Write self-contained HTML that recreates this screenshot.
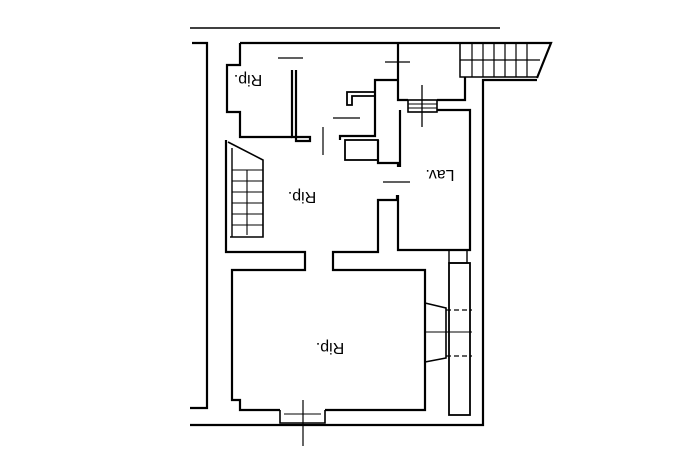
<!DOCTYPE html>
<html><head><style>
html,body{margin:0;padding:0;background:#fff;width:693px;height:462px;overflow:hidden}
svg{display:block}
text{font-family:"Liberation Sans",sans-serif;font-size:16px;fill:#000}
</style></head><body>
<svg width="693" height="462" viewBox="0 0 693 462" xmlns="http://www.w3.org/2000/svg">
<g fill="none" stroke="#000" stroke-width="2.2" stroke-linejoin="miter">
<line x1="190" y1="28" x2="500" y2="28" stroke-width="1.5"/>
<polyline points="192,43 207,43 207,408 190,408"/>
<polyline points="190,425 483,425 483,80 537,80"/>
<polyline points="240,43 551,43 537,78"/>
<polyline points="460,43 460,77 537,77" stroke-width="1.5"/>
<line x1="460" y1="60" x2="540" y2="60" stroke-width="1.2"/>
<g stroke-width="1.2">
<line x1="472" y1="43" x2="472" y2="77"/><line x1="483" y1="43" x2="483" y2="77"/>
<line x1="494" y1="43" x2="494" y2="77"/><line x1="505" y1="43" x2="505" y2="77"/>
<line x1="516" y1="43" x2="516" y2="77"/><line x1="527" y1="43" x2="527" y2="77"/>
</g>
<polyline points="240,43 240,65 227,65 227,112 240,112 240,137 292,137"/>
<polyline points="292,70 292,137 310,137 310,141 296,141 296,70"/>
<line x1="278" y1="58" x2="303" y2="58" stroke-width="1.2"/>
<polyline points="228,142 263,160 263,237 230,237" stroke-width="1.6"/>
<line x1="232" y1="148" x2="232" y2="237" stroke-width="1.4"/>
<line x1="247" y1="170" x2="247" y2="235" stroke-width="1.1"/>
<g stroke-width="1.1">
<line x1="232" y1="170" x2="263" y2="170"/><line x1="232" y1="181" x2="263" y2="181"/>
<line x1="232" y1="192" x2="263" y2="192"/><line x1="232" y1="203" x2="263" y2="203"/>
<line x1="232" y1="214" x2="263" y2="214"/><line x1="232" y1="225" x2="263" y2="225"/>
</g>
<polyline points="226,140 226,252 305,252 305,270 232,270 232,400 240,400 240,410 280,410"/>
<polyline points="325,410 425,410 425,270 333,270 333,252 378,252 378,200 397,200 397,195"/>
<polyline points="280,410 280,423 325,423 325,410" stroke-width="1.6"/>
<line x1="284" y1="414" x2="321" y2="414" stroke-width="1"/>
<line x1="303" y1="400" x2="303" y2="446" stroke-width="1.2"/>
<polyline points="437,110 470,110 470,250 398,250 398,195"/>
<polyline points="400,110 400,167"/>
<polyline points="398,43 398,100 408,100"/>
<polyline points="437,100 465,100 465,77"/>
<rect x="408" y="100" width="29" height="12" stroke-width="1.6"/>
<line x1="408" y1="104" x2="437" y2="104" stroke-width="1"/>
<line x1="408" y1="108" x2="437" y2="108" stroke-width="1"/>
<line x1="422" y1="85" x2="422" y2="127" stroke-width="1.3"/>
<polyline points="398,80 375,80 375,136 340,136 340,140"/>
<polyline points="375,92 347,92 347,105 352,105 352,96 375,96" stroke-width="1.8"/>
<rect x="345" y="140" width="33" height="20" stroke-width="1.8"/>
<polyline points="378,140 378,163 398,163 398,167"/>
<line x1="333" y1="118" x2="360" y2="118" stroke-width="1.2"/>
<line x1="323" y1="127" x2="323" y2="155" stroke-width="1.2"/>
<line x1="383" y1="182" x2="410" y2="182" stroke-width="1.2"/>
<line x1="385" y1="62" x2="410" y2="62" stroke-width="1.2"/>
<line x1="398" y1="52" x2="398" y2="70" stroke-width="1.2"/>
<rect x="449" y="263" width="21" height="152" stroke-width="1.8"/>
<rect x="449" y="250" width="18" height="13" stroke-width="1.4"/>
<polyline points="425,303 446,308 446,358 425,362" stroke-width="1.6"/>
<line x1="446" y1="310" x2="472" y2="310" stroke-width="1.2" stroke-dasharray="5,3"/>
<line x1="446" y1="356" x2="472" y2="356" stroke-width="1.2" stroke-dasharray="5,3"/>
<line x1="425" y1="332" x2="472" y2="332" stroke-width="1"/>
</g>
<text transform="translate(248,75) rotate(180)" text-anchor="middle">Rip.</text>
<text transform="translate(302,192) rotate(180)" text-anchor="middle">Rip.</text>
<text transform="translate(330,343) rotate(180)" text-anchor="middle">Rip.</text>
<text transform="translate(440,170) rotate(180)" text-anchor="middle">Lav.</text>
</svg>
</body></html>
